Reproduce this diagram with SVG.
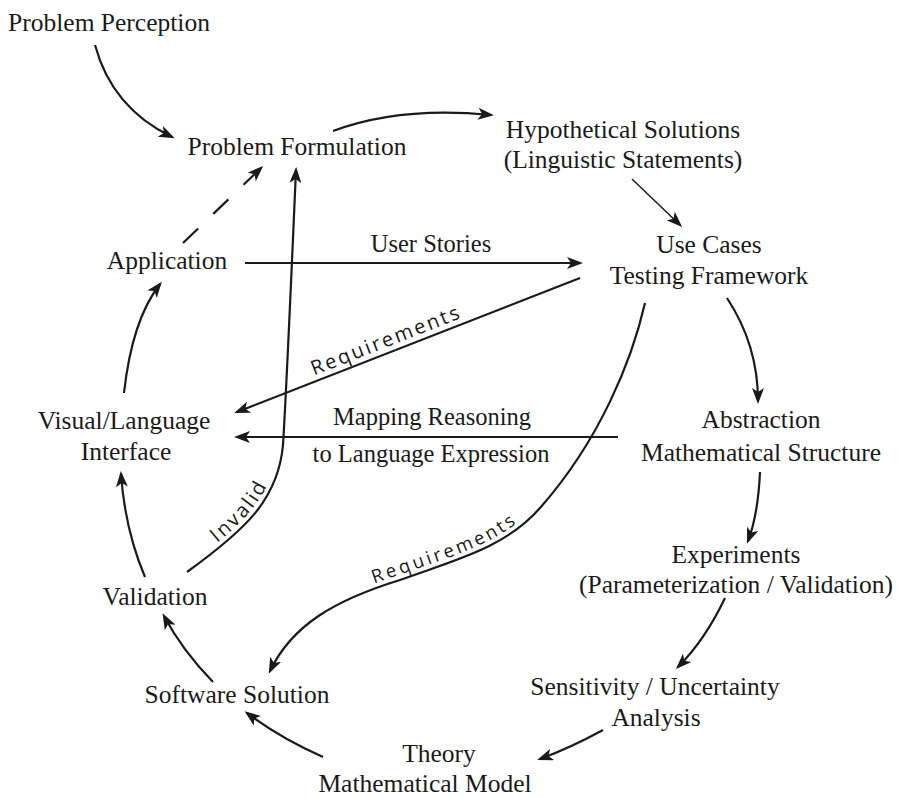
<svg xmlns="http://www.w3.org/2000/svg" width="900" height="798" viewBox="0 0 900 798">
<style>
.n{font-family:"Liberation Serif","Times New Roman",serif;font-size:25.5px;fill:#1a1a1a;text-anchor:middle}
.e{font-family:"Liberation Serif","Times New Roman",serif;font-size:24.5px;fill:#1a1a1a;text-anchor:middle}
.s{font-family:"Open Sans","Liberation Sans",sans-serif;fill:#1a1a1a;text-anchor:middle}
.c{fill:none;stroke:#1a1a1a;stroke-width:2.2;marker-end:url(#ah)}
.t{fill:none;stroke:#1a1a1a;stroke-width:1.5;marker-end:url(#ah)}
</style>
<defs>
<marker id="ah" viewBox="0 0 16 12" refX="13" refY="6" markerWidth="16" markerHeight="12" markerUnits="userSpaceOnUse" orient="auto">
<path d="M0,0 L16,6 L0,12 L4,6 Z" fill="#1a1a1a"/>
</marker>
<path id="tp-req1" d="M237,412 L580,278"/>
<path id="tp-req2" d="M269,673 C292,625 335,600 400,580 C455,560 505,548 540,508"/>
<path id="tp-inv" d="M187,572 C245,530 278,500 283,445"/>
</defs>
<rect width="900" height="798" fill="#ffffff"/>
<g id="connectors">
<path class="c" d="M95,45 Q112,108 172,137"/>
<path class="c" d="M333,131 Q400,106 491,115"/>
<path class="t" d="M632,179 L680,225"/>
<path class="c" d="M245,263 L580,263"/>
<path class="c" d="M580,278 L237,412"/>
<path class="c" d="M618,437 L237,437"/>
<path class="c" d="M727,298 Q758,345 758,401"/>
<path class="c" d="M645,303 C632,360 600,440 540,508 C505,548 455,560 400,580 C335,600 292,625 270,671"/>
<path class="c" d="M187,572 C245,530 278,500 283,445 C287,380 292,260 296,170"/>
<path class="c" d="M183,243 L261,168" stroke-dasharray="21 21"/>
<path class="c" d="M124,393 Q132,320 160,284"/>
<path class="c" d="M145,577 Q125,530 121,474"/>
<path class="c" d="M213,682 Q182,650 164,616"/>
<path class="c" d="M323,757 Q280,738 247,713"/>
<path class="c" d="M603,730 Q570,748 540,759"/>
<path class="c" d="M725,598 Q705,640 678,667"/>
<path class="c" d="M760,472 Q758,515 748,541"/>
<text class="e" x="431" y="252">User Stories</text>
<text class="e" x="432" y="425">Mapping Reasoning</text>
<text class="e" x="431" y="462">to Language Expression</text>
<text class="s" font-size="20" letter-spacing="2.4" dy="-6"><textPath href="#tp-req1" startOffset="165">Requirements</textPath></text>
<text class="s" font-size="18.5" letter-spacing="3.2" dy="-5"><textPath href="#tp-req2" startOffset="220">Requirements</textPath></text>
<text class="s" font-size="20" letter-spacing="2.8" dy="-5"><textPath href="#tp-inv" startOffset="82">Invalid</textPath></text>
</g>
<g id="problem-perception"><text class="n" x="109" y="31">Problem Perception</text></g>
<g id="problem-formulation"><text class="n" x="297" y="155">Problem Formulation</text></g>
<g id="hypothetical-solutions"><text class="n" x="623" y="138">Hypothetical Solutions</text><text class="n" x="623" y="168">(Linguistic Statements)</text></g>
<g id="use-cases"><text class="n" x="709" y="253">Use Cases</text><text class="n" x="709" y="284">Testing Framework</text></g>
<g id="application"><text class="n" x="167" y="269">Application</text></g>
<g id="visual-language-interface"><text class="n" x="124" y="429">Visual/Language</text><text class="n" x="126" y="460">Interface</text></g>
<g id="abstraction"><text class="n" x="761" y="428">Abstraction</text><text class="n" x="761" y="461">Mathematical Structure</text></g>
<g id="experiments"><text class="n" x="736" y="563">Experiments</text><text class="n" x="736" y="593">(Parameterization / Validation)</text></g>
<g id="validation"><text class="n" x="155" y="605">Validation</text></g>
<g id="sensitivity"><text class="n" x="655" y="695">Sensitivity / Uncertainty</text><text class="n" x="656" y="726">Analysis</text></g>
<g id="software-solution"><text class="n" x="237" y="703">Software Solution</text></g>
<g id="theory"><text class="n" x="439" y="762">Theory</text><text class="n" x="425" y="792">Mathematical Model</text></g>
</svg>
